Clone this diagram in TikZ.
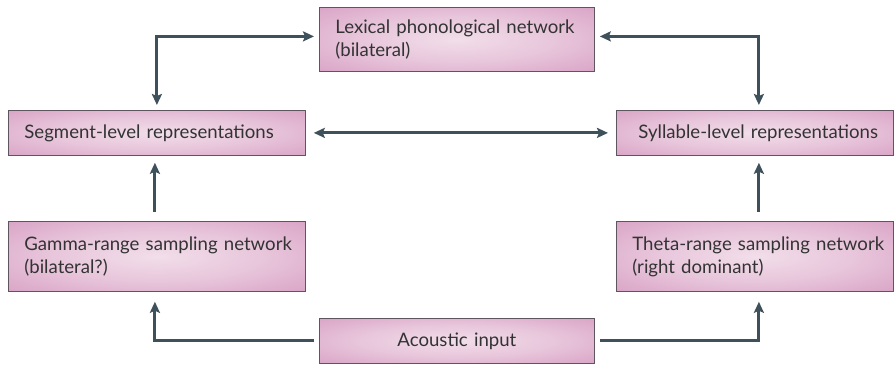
\documentclass[tikz,border=0pt]{standalone}
\usepackage{fontspec}
\setmainfont{Lato}
\usetikzlibrary{arrows.meta}

\definecolor{boxpink}{RGB}{216,160,196}
\definecolor{boxlight}{RGB}{242,222,234}
\definecolor{boxline}{RGB}{95,85,95}
\definecolor{linkgray}{RGB}{62,80,90}
\pgfdeclareradialshading{boxglow}{\pgfpoint{0bp}{0bp}}{%
  color(0bp)=(boxlight); color(18bp)=(boxlight!60!boxpink);
  color(38bp)=(boxpink); color(50bp)=(boxpink)}

\begin{document}
\begin{tikzpicture}[x=1pt, y=-1pt,
  link/.style={line width=3pt, draw=linkgray,
    arrows={-Stealth[length=11pt,width=10pt,inset=2pt]}},
  twoway/.style={link, arrows={Stealth[length=11pt,width=10pt,inset=2pt]-Stealth[length=11pt,width=10pt,inset=2pt]}},
  netbox/.style={rectangle, anchor=north west, draw=boxline, line width=0.8pt,
    shading=boxglow, inner xsep=8pt, inner ysep=0pt, align=left,
    minimum width=#1, text width=#1-16pt,
    execute at begin node={\hyphenpenalty=10000\leftskip=8pt},
    font=\fontsize{18.6pt}{23pt}\selectfont, text=black!80}]

  \useasboundingbox (0,0) rectangle (895,366);

  % boxes
  \node[netbox=275pt, minimum height=64pt] (lex) at (319,7)
    {Lexical phonological network\\(bilateral)};
  \node[netbox=297pt, minimum height=45pt] (seg) at (8,110)
    {Segment-level representations};
  \node[netbox=277pt, minimum height=45pt] (syl) at (616,110)
    {\hspace*{6pt}Syllable-level representations};
  \node[netbox=297pt, minimum height=70pt] (gam) at (8,221)
    {Gamma-range sampling network\\(bilateral?)};
  \node[netbox=277pt, minimum height=70pt] (the) at (616,221)
    {Theta-range sampling network\\(right dominant)};
  \node[netbox=275pt, minimum height=45pt,
    execute at begin node={\leftskip=0pt plus 1fil\rightskip=0pt plus 1fil\parfillskip=0pt}] (aco) at (319,318)
    {Acoustic input};

  % connectors
  \draw[twoway, shorten <=5pt, shorten >=5pt] ([yshift=3pt]lex.west) -| (seg.north);
  \draw[twoway, shorten <=5pt, shorten >=5pt] ([yshift=3pt]lex.east) -| ([xshift=4pt]syl.north);
  \draw[twoway, shorten <=8pt, shorten >=8pt] (seg.east) -- (syl.west);
  \draw[link, shorten <=9pt, shorten >=7pt] ([xshift=-2pt]gam.north) -- ([xshift=-2pt]seg.south);
  \draw[link, shorten <=9pt, shorten >=7pt] ([xshift=4pt]the.north) -- ([xshift=4pt]syl.south);
  \draw[link, shorten <=5pt, shorten >=10pt] (aco.west) -| ([xshift=-2pt]gam.south);
  \draw[link, shorten <=5pt, shorten >=10pt] (aco.east) -| ([xshift=4pt]the.south);
\end{tikzpicture}
\end{document}
